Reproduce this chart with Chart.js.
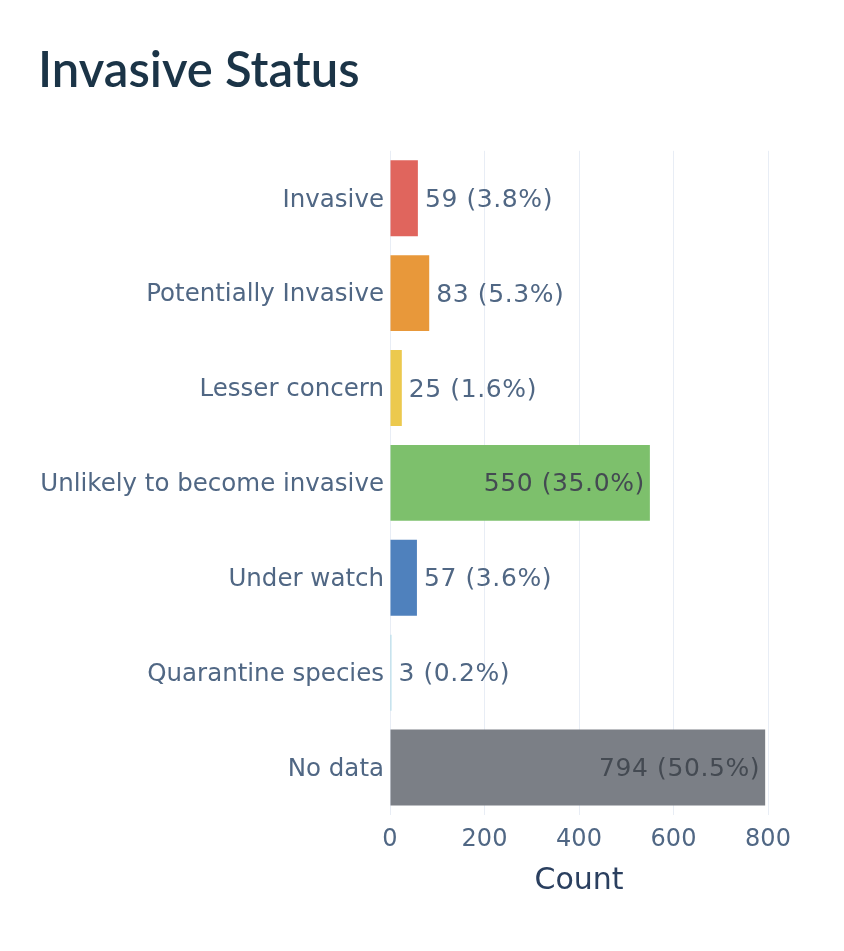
<!DOCTYPE html>
<html>
<head>
<meta charset="utf-8">
<script src="https://cdn.jsdelivr.net/npm/chart.js@4.4.1/dist/chart.umd.min.js"></script>
<style>
  html, body { margin: 0; padding: 0; background: #ffffff; }
  #wrap { width: 844px; height: 951px; position: relative; }
</style>
</head>
<body>
<div id="wrap"><canvas id="c" width="844" height="951"></canvas></div>
<script>
const chartTitle = 'Invasive Status';
const categories = ['Invasive', 'Potentially Invasive', 'Lesser concern', 'Unlikely to become invasive', 'Under watch', 'Quarantine species', 'No data'];
const counts = [59, 83, 25, 550, 57, 3, 794];
const percents = [3.8, 5.3, 1.6, 35.0, 3.6, 0.2, 50.5];
const barColors = ['#e0655d', '#e8983a', '#ecc94e', '#7dc06c', '#4f81bd', '#a8d8e6', '#7b7f86'];
const xTicks = [0, 200, 400, 600, 800];
const xTitle = 'Count';

const labelFont = '25px "DejaVu Sans", Verdana, sans-serif';

const valueLabels = {
  id: 'valueLabels',
  afterDatasetsDraw(chart) {
    const ctx = chart.ctx;
    const meta = chart.getDatasetMeta(0);
    ctx.save();
    ctx.font = labelFont;
    ctx.letterSpacing = '0.6px';
    ctx.textBaseline = 'middle';
    meta.data.forEach((bar, i) => {
      const txt = counts[i] + ' (' + percents[i].toFixed(1) + '%)';
      const w = ctx.measureText(txt).width;
      const barW = bar.x - bar.base;
      if (w + 12 < barW) {
        ctx.textAlign = 'right';
        ctx.fillStyle = '#444a52';
        ctx.fillText(txt, bar.x - 5, bar.y + 2);
      } else {
        ctx.textAlign = 'left';
        ctx.fillStyle = '#506784';
        ctx.fillText(txt, bar.x + 7, bar.y + 2);
      }
    });
    ctx.restore();
  }
};

new Chart(document.getElementById('c'), {
  type: 'bar',
  data: {
    labels: categories,
    datasets: [{
      data: counts,
      backgroundColor: barColors,
      borderWidth: 0,
      categoryPercentage: 0.8,
      barPercentage: 1.0
    }]
  },
  options: {
    indexAxis: 'y',
    responsive: false,
    animation: false,
    layout: { padding: { left: 38, right: 76, top: 0, bottom: 0 } },
    plugins: {
      legend: { display: false },
      tooltip: { enabled: false },
      title: {
        display: true,
        text: chartTitle,
        align: 'start',
        color: '#1b3447',
        font: { family: 'Lato, "Open Sans", sans-serif', size: 49, weight: '600', lineHeight: 1.2 },
        padding: { top: 42, bottom: 50 }
      }
    },
    scales: {
      x: {
        min: 0,
        max: 800,
        afterBuildTicks(scale) { scale.ticks = xTicks.map(v => ({ value: v })); },
        afterFit(scale) { scale.height = 136; },
        grid: { color: '#e8edf5', lineWidth: 1, drawTicks: false },
        border: { display: false },
        ticks: {
          color: '#506784',
          font: { family: '"DejaVu Sans", Verdana, sans-serif', size: 24 },
          padding: 10
        },
        title: {
          display: true,
          text: xTitle,
          color: '#2a3f5f',
          font: { family: '"DejaVu Sans", Verdana, sans-serif', size: 30 },
          padding: { top: 0, bottom: 52 }
        }
      },
      y: {
        afterFit(scale) { scale.width = 352; },
        grid: { display: false, drawTicks: false },
        border: { display: false },
        ticks: {
          color: '#506784',
          font: { family: '"DejaVu Sans", Verdana, sans-serif', size: 24.5 },
          padding: 6,
          labelOffset: 2
        }
      }
    }
  },
  plugins: [valueLabels]
});
</script>
</body>
</html>
